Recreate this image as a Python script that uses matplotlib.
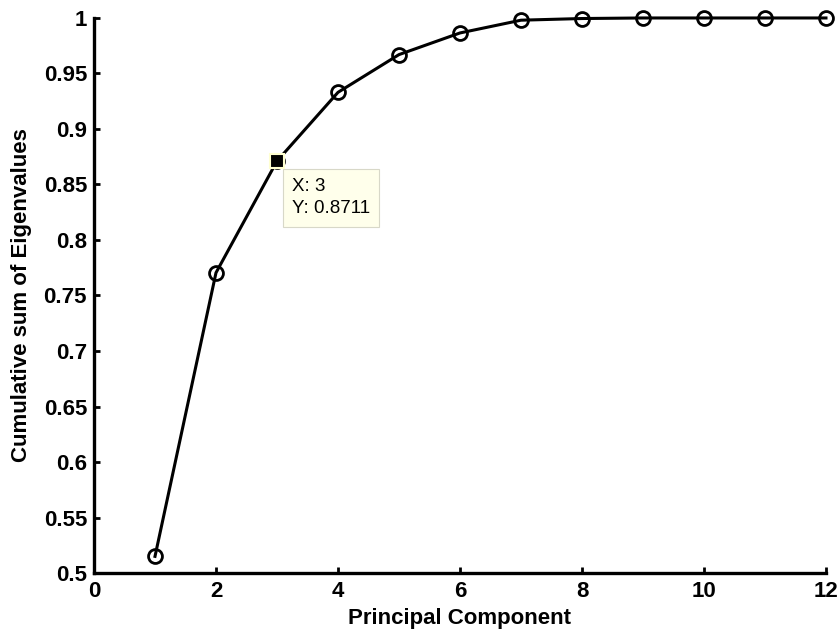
import matplotlib

matplotlib.use("Agg")
import matplotlib.pyplot as plt

plt.rcParams["font.family"] = ["Liberation Sans", "DejaVu Sans"]

# cumulative explained variance per principal component
components = [1, 2, 3, 4, 5, 6, 7, 8, 9, 10, 11, 12]
cum_eigen = [0.515, 0.7705, 0.8711, 0.933, 0.967, 0.9865, 0.998, 0.9995, 1.0, 1.0, 1.0, 1.0]
x_ticks = [0, 2, 4, 6, 8, 10, 12]
y_ticks = [0.5, 0.55, 0.6, 0.65, 0.7, 0.75, 0.8, 0.85, 0.9, 0.95, 1.0]
y_tick_labels = ["0.5", "0.55", "0.6", "0.65", "0.7", "0.75", "0.8", "0.85", "0.9", "0.95", "1"]
tip_index = 2

fig = plt.figure(figsize=(8.4, 6.35), dpi=100)
ax = fig.add_axes([0.1119, 0.0976, 0.8714, 0.8741])

ax.plot(components, cum_eigen, color="black", linewidth=2.2, marker="o",
        markersize=10, markerfacecolor="none", markeredgecolor="black",
        markeredgewidth=2.0, clip_on=False, zorder=3)

# data tip
ax.plot(components[tip_index], cum_eigen[tip_index], marker="s", markersize=10,
        markerfacecolor="black", markeredgecolor="#FFFFD0", markeredgewidth=1.5,
        clip_on=False, zorder=5)
ax.annotate(f"X: {components[tip_index]}\nY: {cum_eigen[tip_index]:.4f}",
            xy=(components[tip_index], cum_eigen[tip_index]),
            xytext=(15, -17), textcoords="offset pixels", ha="left", va="top",
            fontsize=13.5, linespacing=1.4, zorder=4,
            bbox=dict(boxstyle="square,pad=0.5", facecolor="#FFFFEB",
                      edgecolor="#D8D8C8", linewidth=0.8))

ax.set_xlim(0, 12)
ax.set_ylim(0.5, 1.0)
ax.set_xticks(x_ticks)
ax.set_yticks(y_ticks)
ax.set_yticklabels(y_tick_labels)

for side in ("top", "right"):
    ax.spines[side].set_visible(False)
for side in ("left", "bottom"):
    ax.spines[side].set_linewidth(2.4)

ax.tick_params(direction="in", length=4.5, width=2.0, labelsize=16)
ax.tick_params(axis="y", pad=5)
ax.tick_params(axis="x", pad=6)
for label in ax.get_xticklabels() + ax.get_yticklabels():
    label.set_fontweight("bold")

ax.set_xlabel("Principal Component", fontsize=16, fontweight="bold", labelpad=4)
ax.set_ylabel("Cumulative sum of Eigenvalues", fontsize=16, fontweight="bold", labelpad=8)

fig.savefig("out.png", dpi=100)
